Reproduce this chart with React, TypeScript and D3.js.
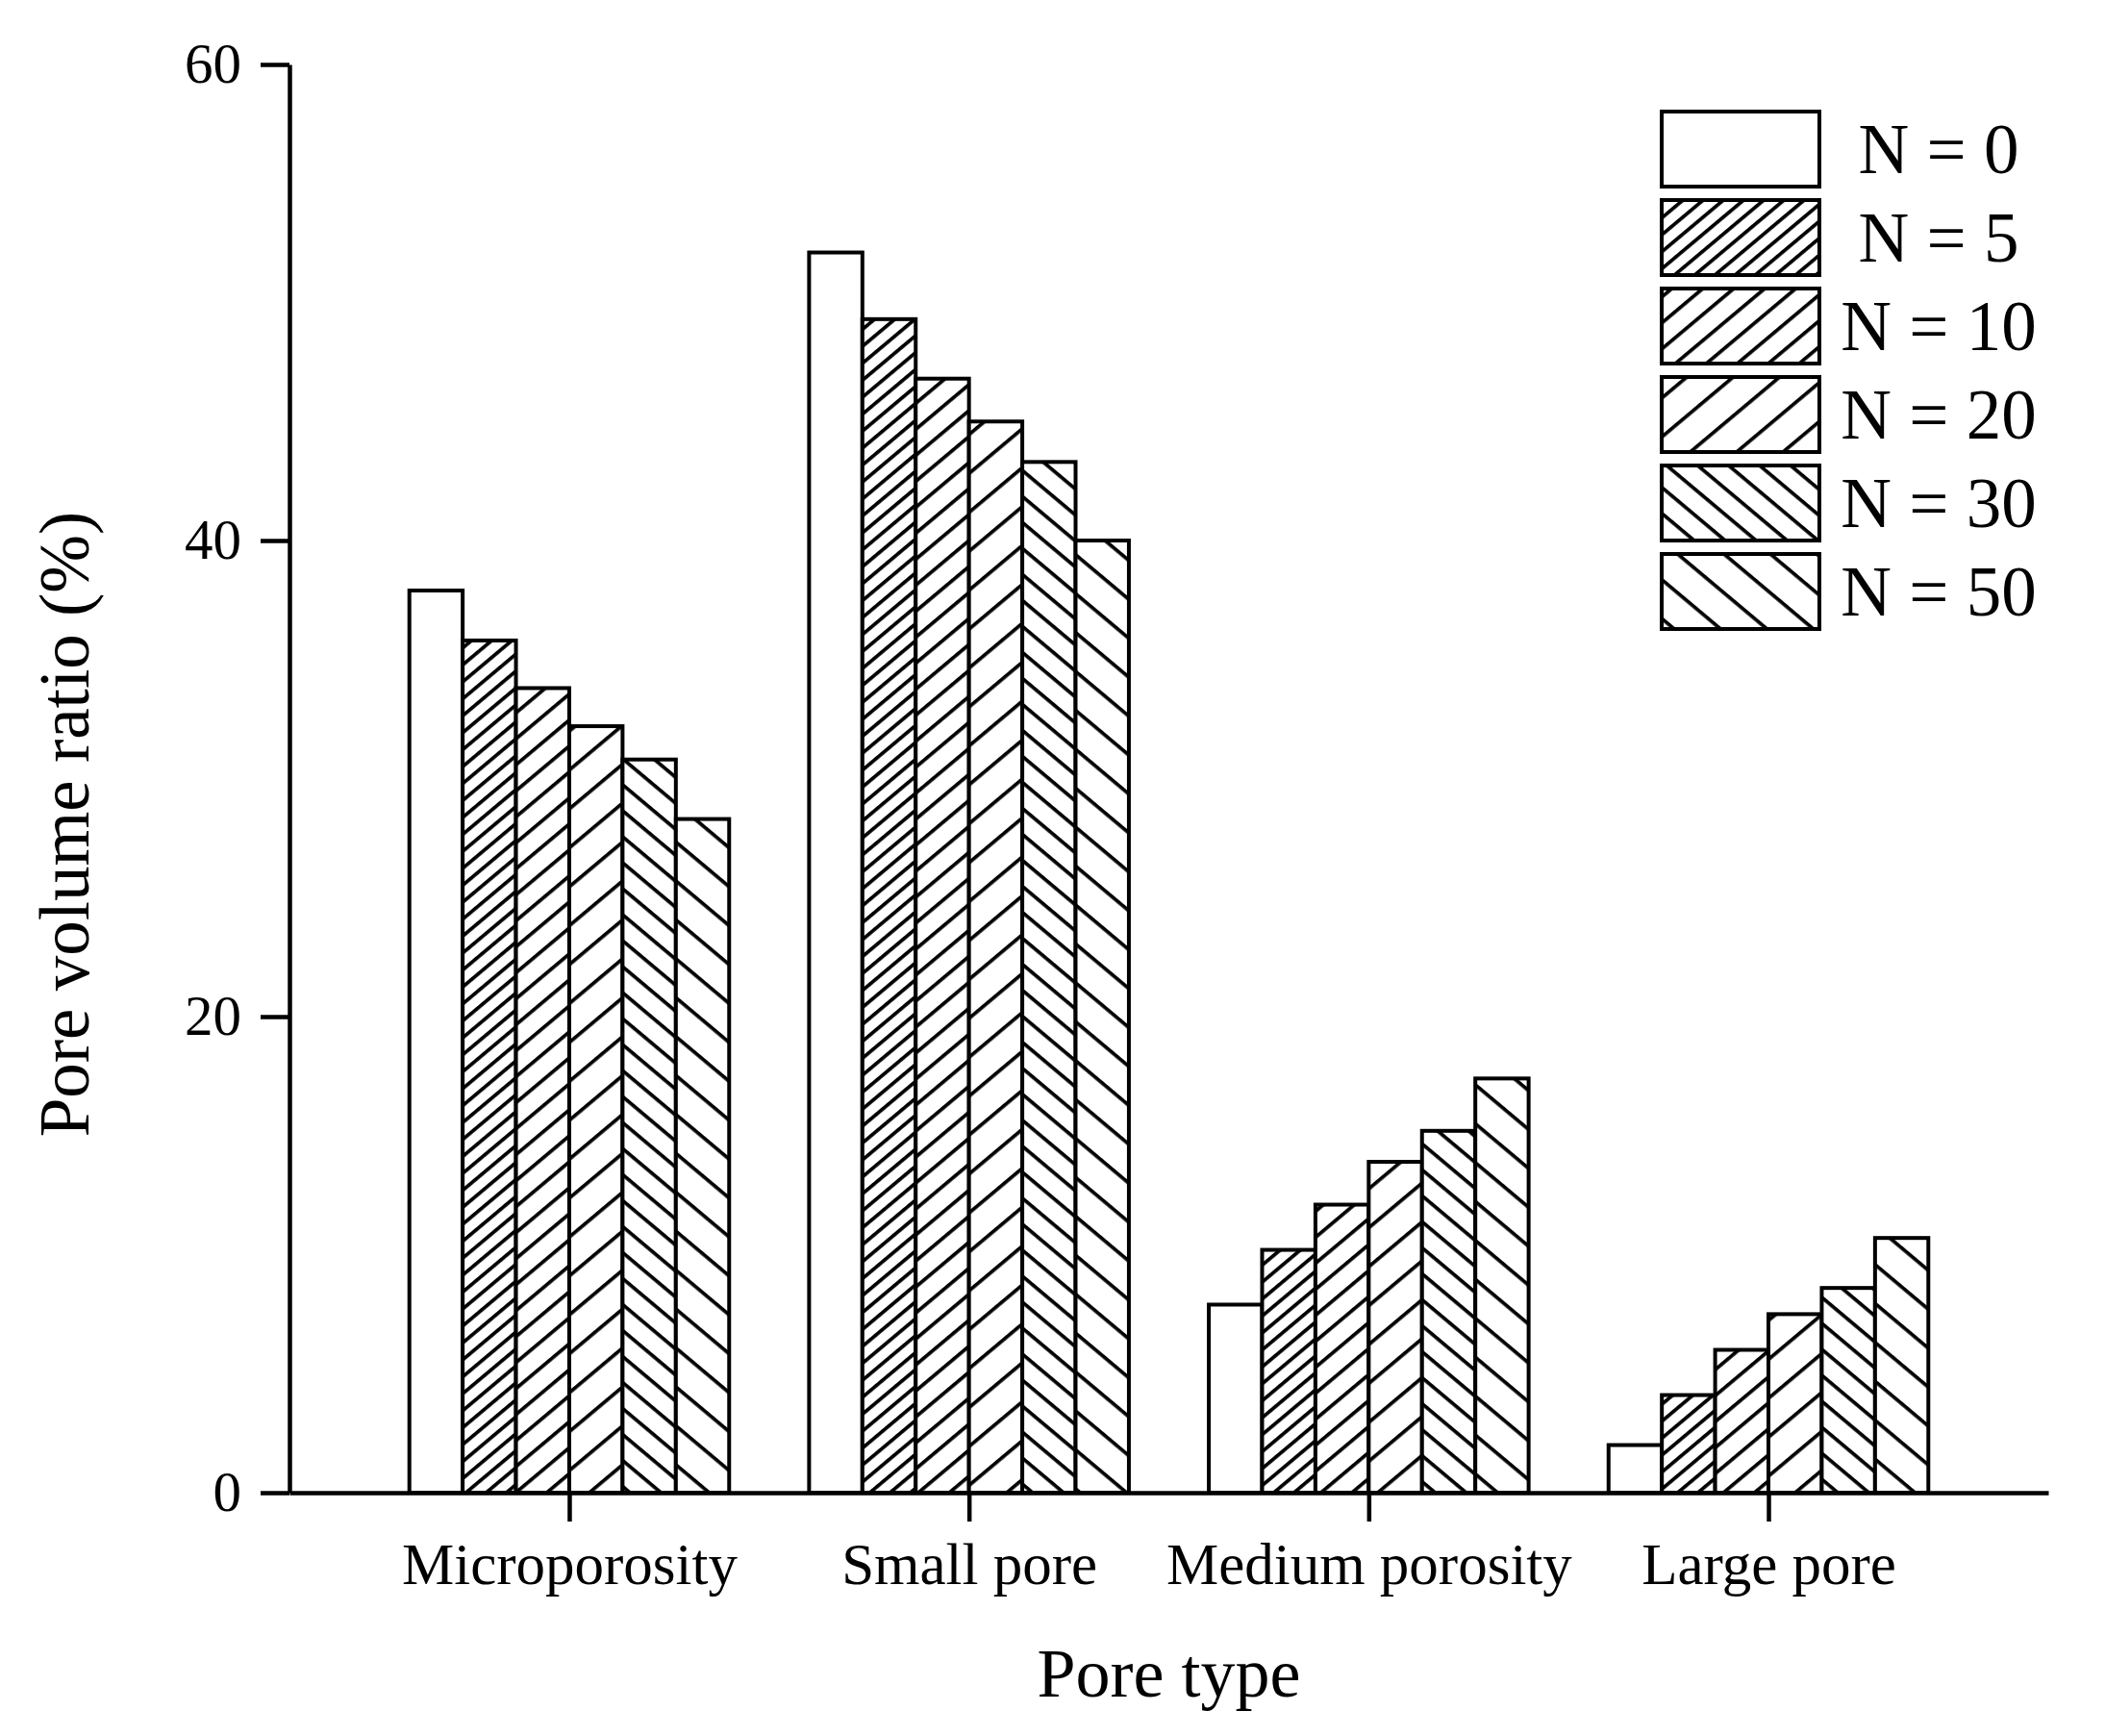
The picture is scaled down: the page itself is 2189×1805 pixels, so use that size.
import React, { useEffect, useRef } from "react";
import * as d3 from "d3";

const categories = ["Microporosity", "Small pore", "Medium porosity", "Large pore"];
const seriesNames = ["N = 0", "N = 5", "N = 10", "N = 20", "N = 30", "N = 50"];
const n0 = [37.9, 52.1, 7.9, 2.0];
const n5 = [35.8, 49.3, 10.2, 4.1];
const n10 = [33.8, 46.8, 12.1, 6.0];
const n20 = [32.2, 45.0, 13.9, 7.5];
const n30 = [30.8, 43.3, 15.2, 8.6];
const n50 = [28.3, 40.0, 17.4, 10.7];
const seriesValues = [n0, n5, n10, n20, n30, n50];
const yTicks = [0, 20, 40, 60];

// hatch definitions: angle (deg) and perpendicular spacing; null = empty
const hatches: ({ angle: number; gap: number } | null)[] = [
  null,
  { angle: -40, gap: 13.5 },
  { angle: -40, gap: 20.7 },
  { angle: -40, gap: 31 },
  { angle: 40, gap: 20.7 },
  { angle: 40, gap: 31 },
];

const W = 2189;
const H = 1805;
const FONT = "'Liberation Serif', 'Times New Roman', serif";

export default function App() {
  const ref = useRef<SVGSVGElement>(null);

  useEffect(() => {
    const svg = d3.select(ref.current);
    svg.selectAll("*").remove();

    const x = d3.scaleLinear().domain([0.3, 4.7]).range([301, 2130]);
    const y = d3.scaleLinear().domain([0, 60]).range([1552, 67]);
    const step = x(2) - x(1);
    const groupW = step * 0.8;
    const barW = groupW / seriesNames.length;

    const defs = svg.append("defs");
    hatches.forEach((h, i) => {
      if (!h) return;
      const p = defs
        .append("pattern")
        .attr("id", "hatch" + i)
        .attr("patternUnits", "userSpaceOnUse")
        .attr("width", 20)
        .attr("height", h.gap)
        .attr("patternTransform", `rotate(${h.angle})`);
      p.append("rect").attr("width", 20).attr("height", h.gap).attr("fill", "white");
      p.append("rect").attr("x", 0).attr("y", 0).attr("width", 20).attr("height", 3.7).attr("fill", "black");
    });

    const fillFor = (i: number) => (hatches[i] ? `url(#hatch${i})` : "white");

    // bars
    const g = svg.append("g");
    categories.forEach((c, ci) => {
      seriesValues.forEach((vals, si) => {
        const x0 = x(ci + 1) - groupW / 2 + si * barW;
        g.append("rect")
          .attr("x", x0)
          .attr("y", y(vals[ci]))
          .attr("width", barW)
          .attr("height", y(0) - y(vals[ci]))
          .attr("fill", fillFor(si))
          .attr("stroke", "black")
          .attr("stroke-width", 4);
      });
    });

    // y axis
    const yAxis = svg
      .append("g")
      .attr("transform", `translate(${x(0.3)},0)`)
      .call(
        d3
          .axisLeft(y)
          .tickValues(yTicks)
          .tickSize(30)
          .tickSizeOuter(0)
          .tickPadding(20)
          .tickFormat(d3.format("d"))
      );
    yAxis.selectAll("path, line").attr("stroke", "black").attr("stroke-width", 4.5);
    yAxis
      .selectAll("text")
      .attr("font-family", FONT)
      .attr("font-size", 59)
      .attr("fill", "black");

    // x axis
    const xAxis = svg
      .append("g")
      .attr("transform", `translate(0,${y(0)})`)
      .call(
        d3
          .axisBottom(x)
          .tickValues([1, 2, 3, 4])
          .tickSize(30)
          .tickSizeOuter(0)
          .tickPadding(22)
          .tickFormat((d) => categories[(d as number) - 1])
      );
    xAxis.selectAll("path, line").attr("stroke", "black").attr("stroke-width", 4.5);
    xAxis
      .selectAll("text")
      .attr("font-family", FONT)
      .attr("font-size", 61)
      .attr("fill", "black");

    // axis titles
    svg
      .append("text")
      .attr("x", (x(0.3) + x(4.7)) / 2)
      .attr("y", 1764)
      .attr("text-anchor", "middle")
      .attr("font-family", FONT)
      .attr("font-size", 72)
      .text("Pore type");

    svg
      .append("text")
      .attr("transform", `translate(92,857) rotate(-90)`)
      .attr("text-anchor", "middle")
      .attr("font-family", FONT)
      .attr("font-size", 73)
      .text("Pore volume ratio (%)");

    // legend
    const lg = svg.append("g");
    seriesNames.forEach((name, i) => {
      const top = 116 + i * 92;
      lg.append("rect")
        .attr("x", 1728)
        .attr("y", top)
        .attr("width", 164)
        .attr("height", 78)
        .attr("fill", fillFor(i))
        .attr("stroke", "black")
        .attr("stroke-width", 4);
      lg.append("text")
        .attr("x", 2016)
        .attr("y", top + 39 + 25)
        .attr("text-anchor", "middle")
        .attr("font-family", FONT)
        .attr("font-size", 73)
        .text(name);
    });
  }, []);

  return (
    <svg
      ref={ref}
      width={W}
      height={H}
      viewBox={`0 0 ${W} ${H}`}
      style={{ position: "absolute", left: 0, top: 0, background: "white" }}
    />
  );
}
